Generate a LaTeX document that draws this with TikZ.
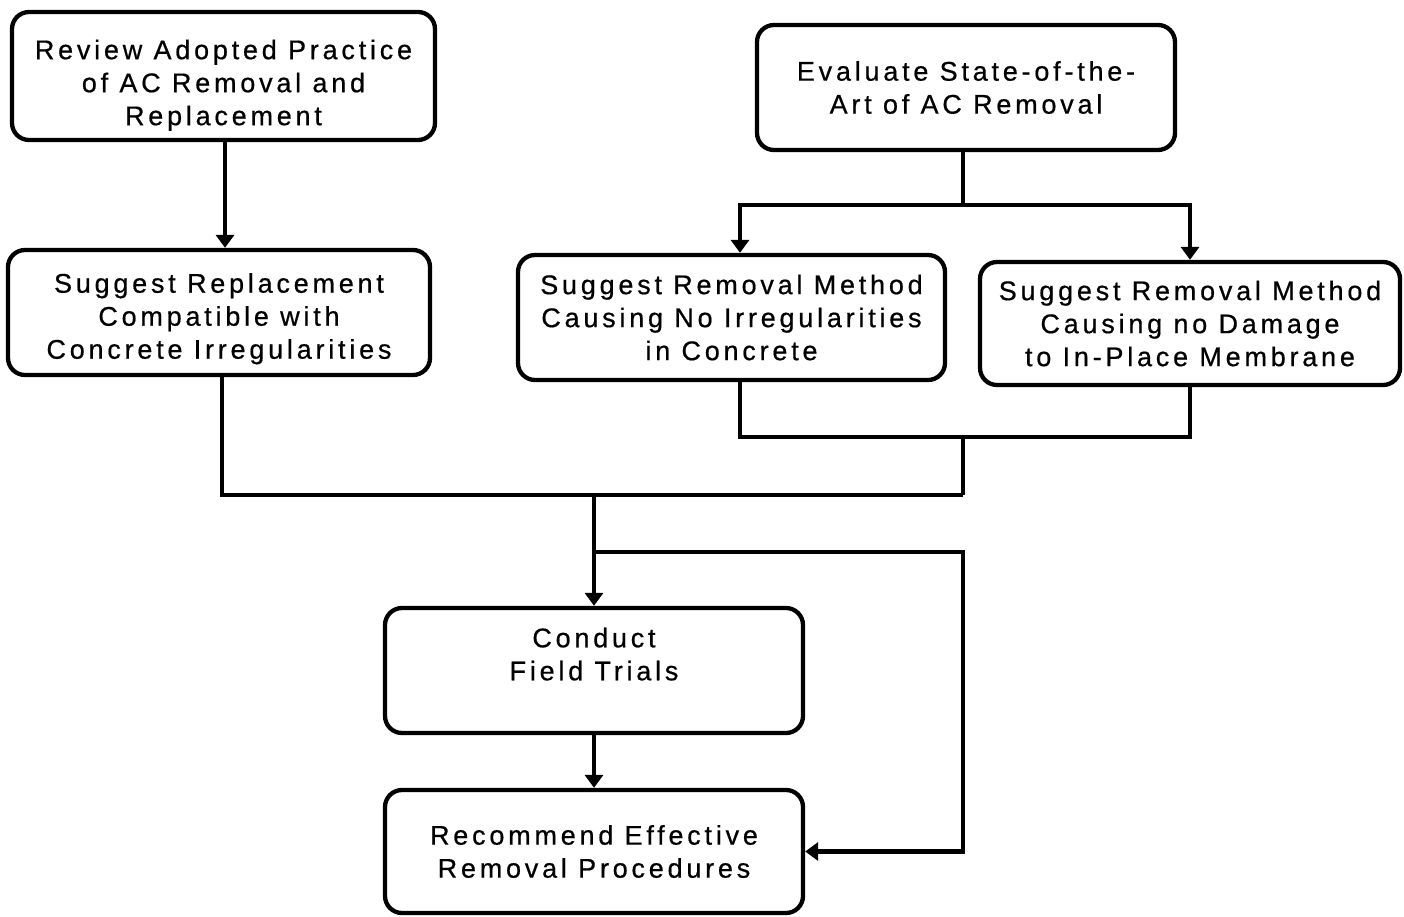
\documentclass[tikz,border=0pt]{standalone}
\usepackage{fontspec}
\setmainfont{Liberation Sans}[LetterSpace=14,FakeBold=0.6]
\usetikzlibrary{arrows.meta}
\begin{document}
\begin{tikzpicture}[x=1pt,y=-1pt,
  line width=4.3pt,
  box/.style={draw, rounded corners=17pt, line width=4.3pt, align=center,
    font=\fontsize{27}{33}\selectfont, inner sep=0pt},
  arr/.style={-{Triangle[width=18pt,length=13pt]}},
  link/.style={line join=miter}
]
\useasboundingbox (0,0) rectangle (1404,917);

% process boxes
\node[box, minimum width=423, minimum height=128] (b1) at (223.5,76)
  {\rule{0pt}{38pt}Review Adopted Practice\\of AC Removal and\\Replacement};
\node[box, minimum width=418, minimum height=125] (b2) at (966,87.5)
  {Evaluate State-of-the-\\Art of AC Removal};
\node[box, minimum width=422, minimum height=125] (b3) at (219,312.5)
  {\rule{0pt}{32pt}Suggest Replacement\\Compatible with\\Concrete Irregularities};
\node[box, minimum width=427, minimum height=125] (b4) at (731.5,317.5)
  {Suggest Removal Method\\Causing No Irregularities\\in Concrete};
\node[box, minimum width=420, minimum height=123] (b5) at (1190,323.5)
  {Suggest Removal Method\\Causing no Damage\\to In-Place Membrane};
\node[box, minimum width=418, minimum height=125] (b6) at (594,670.5)
  {Conduct\\Field Trials\\\mbox{}};
\node[box, minimum width=418, minimum height=123] (b7) at (594,851.5)
  {Recommend Effective\\Removal Procedures};

% junction points of the connector network
\coordinate (j1) at (963,205);
\coordinate (j2) at (963,437);
\coordinate (j3) at (963,495);
\coordinate (j4) at (594,552);

% connectors
\draw[arr] ([xshift=1.5pt]b1.south) -- ([xshift=1.5pt]b1.south |- b3.north);
\draw[link] ([xshift=-3pt]b2.south) -- (j1);
\draw[arr,link] (j1) -| ([xshift=8.5pt]b4.north);
\draw[arr,link] (j1) -| (b5.north);
\draw[link] ([xshift=8.5pt]b4.south) |- (j2) -| (b5.south);
\draw[link] (j2) -- (j3);
\draw[link] ([xshift=3pt]b3.south) |- (j3);
\draw[arr] (b6.north |- j3) -- (b6.north);
\draw[arr,link] (j4) -| (j3 |- b7.east) -- (b7.east);
\draw[arr] (b6.south) -- (b7.north);
\end{tikzpicture}
\end{document}
